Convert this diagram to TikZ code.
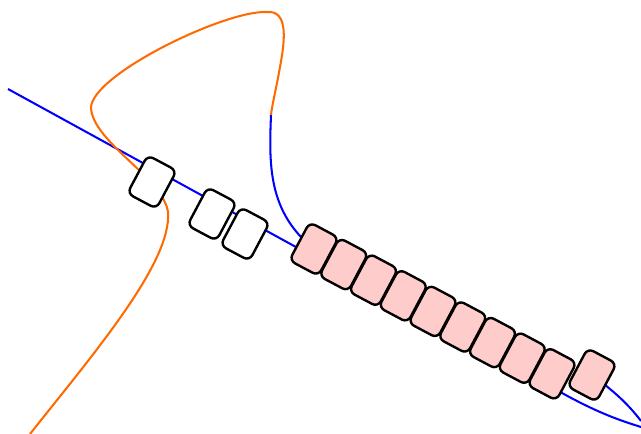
\documentclass[tikz,border=0pt]{standalone}
\usetikzlibrary{positioning, backgrounds}
\definecolor{strand}{RGB}{0,0,255}
\definecolor{tail}{RGB}{255,106,0}
\definecolor{bound}{RGB}{255,204,204}
\tikzset{unit/.style={draw, line width=1.7pt, rounded corners=4.5pt, minimum width=0.82cm, minimum height=1.08cm, inner sep=0pt, rotate=-28},
  freeunit/.style={unit, fill=white},
  boundunit/.style={unit, fill=bound},
  chain/.style={line width=1.45pt}}

\begin{document}
\begin{tikzpicture}[x=0.025cm, y=-0.025cm]
\useasboundingbox (0,0) rectangle (641,434);
\node[freeunit] (w1) at (152,182) {};
\node[freeunit] (w2) at (212,214) {};
\node[freeunit] (w3) at (245,234) {};
\foreach \i in {1,...,9} \node[boundunit] (p\i) at ({314+29.75*(\i-1)},{249+15.6*(\i-1)}) {};
\node[boundunit] (p10) at (592,375) {};
\coordinate (s0) at (8,89);
\coordinate (s1) at (562,393);
\coordinate (s2) at (641,427);
\coordinate (r0) at (641,421);
\coordinate (t0) at (30,434);
\coordinate (join) at (271,115);
\begin{pgfonlayer}{background}
\draw[strand, chain] (s0) -- (s1) .. controls (600,414) and (622,421) .. (s2);
\draw[strand, chain] (join) .. controls (269,165) and (268,212) .. (p1.center);
\draw[strand, chain] (p10.center) .. controls (615,392) and (628,404) .. (r0);
\draw[tail, chain] (t0) .. controls (95,352) and (172,262) .. (168,212) .. controls (163,178) and (93,142) .. (91,108) .. controls (91,75) and (225,10) .. (267,12) .. controls (290,10) and (284,45) .. (280,67) .. controls (277,85) and (272,105) .. (join);
\end{pgfonlayer}
\end{tikzpicture}
\end{document}
